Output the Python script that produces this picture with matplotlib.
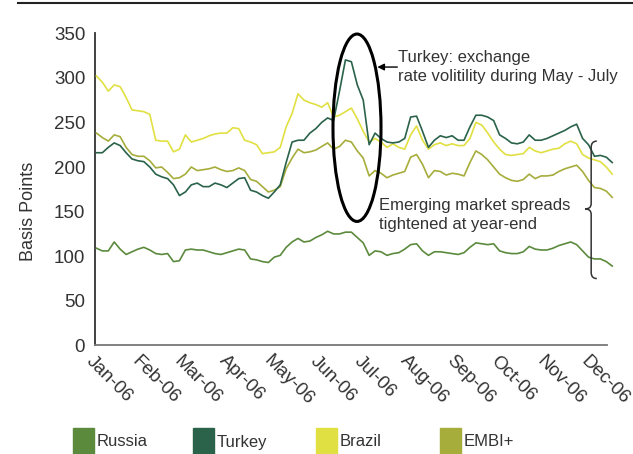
import numpy as np
import pandas as pd
import matplotlib
matplotlib.use('Agg')
import matplotlib.pyplot as plt
import matplotlib.dates as mdates
from matplotlib.patches import Ellipse, Rectangle, PathPatch
from matplotlib.path import Path
from matplotlib.lines import Line2D

plt.rcParams['font.family'] = ['Liberation Sans', 'DejaVu Sans']

# spreads in basis points, sampled every 4 days from 2 Jan 2006
dates = pd.date_range('2006-01-02', periods=88, freq='4D')

russia = [109, 106, 106, 116, 108, 102, 105, 108, 110, 107, 103, 102, 103, 94, 95, 107,
          108, 107, 107, 105, 103, 102, 104, 106, 108, 107, 97, 96, 94, 93, 99, 101,
          110, 116, 120, 116, 117, 121, 124, 128, 125, 125, 127, 127, 121, 115, 101, 106,
          105, 101, 103, 104, 108, 113, 114, 106, 101, 105, 105, 104, 103, 102, 104, 110,
          115, 114, 113, 114, 106, 104, 103, 103, 105, 111, 108, 107, 107, 109, 112, 114,
          116, 113, 106, 99, 97, 97, 94, 89]

turkey = [216, 216, 222, 227, 224, 216, 209, 207, 206, 200, 192, 189, 187, 180, 168, 172,
          180, 182, 178, 178, 182, 180, 177, 182, 187, 188, 174, 172, 168, 165, 172, 180,
          205, 228, 230, 230, 238, 243, 250, 255, 252, 285, 320, 318, 292, 275, 225, 238,
          232, 228, 227, 228, 232, 256, 257, 240, 222, 230, 235, 233, 235, 230, 230, 245,
          258, 258, 256, 252, 236, 232, 227, 226, 228, 236, 230, 230, 232, 235, 238, 241,
          245, 248, 232, 225, 212, 213, 211, 205]

brazil = [302, 295, 285, 292, 290, 278, 264, 263, 262, 259, 230, 229, 229, 217, 220, 236,
          228, 230, 232, 235, 237, 238, 238, 244, 243, 230, 228, 225, 215, 216, 217, 222,
          245, 260, 282, 275, 272, 270, 267, 272, 256, 258, 262, 266, 254, 240, 228, 232,
          228, 222, 226, 222, 220, 236, 246, 230, 220, 225, 227, 224, 226, 224, 224, 232,
          250, 247, 238, 228, 220, 214, 213, 214, 215, 222, 218, 216, 218, 220, 221, 226,
          229, 226, 214, 210, 208, 206, 200, 192]

embi = [238, 233, 229, 236, 234, 222, 214, 212, 212, 207, 199, 200, 194, 187, 188, 192,
        200, 196, 197, 198, 200, 197, 195, 196, 199, 196, 186, 184, 178, 172, 174, 178,
        198, 210, 220, 216, 217, 219, 223, 227, 220, 223, 230, 228, 218, 210, 190, 196,
        193, 188, 191, 193, 195, 211, 214, 203, 188, 196, 195, 191, 193, 192, 190, 205,
        218, 214, 208, 200, 192, 188, 185, 184, 186, 192, 187, 190, 190, 191, 195, 198,
        200, 202, 195, 185, 177, 176, 173, 166]

names = ['Russia', 'Turkey', 'Brazil', 'EMBI+']
colors = ['#5b8a3d', '#2a624a', '#e1e042', '#a6ad3b']
text_color = '#333333'

fig = plt.figure(figsize=(6.33, 4.54), dpi=100)
ax = fig.add_axes([0.150, 0.239, 0.809, 0.688])

series = [russia, brazil, embi, turkey]
order = [0, 2, 3, 1]
for s, k in zip(series, order):
    ax.plot(dates, s, color=colors[k], lw=1.2, clip_on=False, zorder=3)

start = mdates.date2num(pd.Timestamp('2006-01-01'))
ax.set_xlim(start, start + 345.5)
ax.set_ylim(0, 350)
ax.set_yticks(np.arange(0, 351, 50))
ax.xaxis.set_major_locator(mdates.MonthLocator())
ax.xaxis.set_major_formatter(mdates.DateFormatter('%b-%y'))

ax.tick_params(axis='both', length=0, labelsize=13.5, labelcolor=text_color)
ax.tick_params(axis='y', pad=7)
ax.tick_params(axis='x', pad=5)
for lab in ax.get_xticklabels():
    lab.set_rotation(-45)
    lab.set_rotation_mode('anchor')
    lab.set_ha('left')
    lab.set_va('top')

for side in ['top', 'right']:
    ax.spines[side].set_visible(False)
ax.spines['left'].set_color('#333333')
ax.spines['left'].set_linewidth(1.3)
ax.spines['bottom'].set_color('#777777')
ax.spines['bottom'].set_linewidth(1.3)

ax.set_ylabel('Basis Points', fontsize=13, color=text_color)
ax.yaxis.set_label_coords(-0.113, 0.43)

# ellipse around Turkey spike
ell = Ellipse((start + 176.8, 244), width=32.4, height=210, fill=False,
              edgecolor='black', lw=2.2, clip_on=False, zorder=4)
ax.add_patch(ell)
ax.annotate('', xy=(start + 190.5, 312), xytext=(start + 204, 312),
            arrowprops=dict(arrowstyle='-|>', color='black', lw=1,
                            mutation_scale=10, shrinkA=0, shrinkB=0))
ax.text(start + 204.5, 312, 'Turkey: exchange\nrate volitility during May - July',
        fontsize=12, color=text_color, va='center', ha='left', linespacing=1.3)

ax.text(start + 191.6, 146, 'Emerging market spreads\ntightened at year-end',
        fontsize=12, color=text_color, va='center', ha='left', linespacing=1.3)

# brace at year-end: x in axes fraction, y in data
bx, tip, curl = 0.969, 0.957, 0.980
top, mid, bot = 229, 153, 75
verts = [(curl, top), (bx, top), (bx, top - 7),
         (bx, mid + 6),
         (bx, mid), (tip, mid),
         (bx, mid), (bx, mid - 6),
         (bx, bot + 7),
         (bx, bot), (curl, bot)]
codes = [Path.MOVETO, Path.CURVE3, Path.CURVE3,
         Path.LINETO,
         Path.CURVE3, Path.CURVE3,
         Path.CURVE3, Path.CURVE3,
         Path.LINETO,
         Path.CURVE3, Path.CURVE3]
ax.add_patch(PathPatch(Path(verts, codes), transform=ax.get_yaxis_transform(),
                       fill=False, edgecolor='#333333', lw=1.1, clip_on=False, zorder=5))

# rule across the top
fig.add_artist(Line2D([18 / 633, 1.0], [1 - 3 / 454, 1 - 3 / 454],
                      color='#222222', lw=1.5))

# legend
leg_x = [73, 193, 316, 440]
for name, c, x0 in zip(names, colors, leg_x):
    fig.add_artist(Rectangle((x0 / 633, 0), 21 / 633, 26 / 454, color=c,
                             transform=fig.transFigure))
    fig.text((x0 + 24) / 633, 12 / 454, name, fontsize=12, color=text_color,
             va='center', ha='left')

fig.savefig('out.png', dpi=100)
